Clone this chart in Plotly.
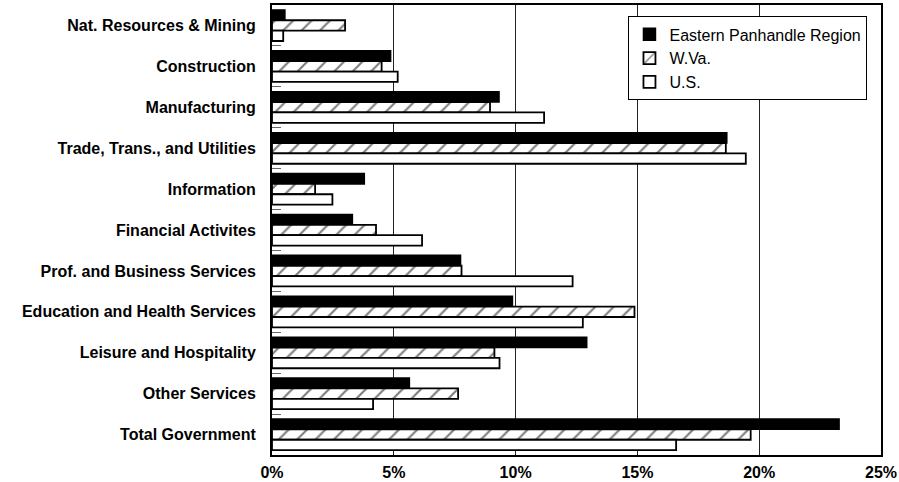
import plotly.graph_objects as go

categories = [
    "Nat. Resources & Mining",
    "Construction",
    "Manufacturing",
    "Trade, Trans., and Utilities",
    "Information",
    "Financial Activites",
    "Prof. and Business Services",
    "Education and Health Services",
    "Leisure and Hospitality",
    "Other Services",
    "Total Government",
]
eastern = [0.53, 4.87, 9.32, 18.67, 3.79, 3.30, 7.74, 9.87, 12.92, 5.64, 23.28]
wva = [3.0, 4.5, 8.95, 18.63, 1.77, 4.27, 7.78, 14.88, 9.13, 7.64, 19.65]
us = [0.46, 5.16, 11.17, 19.45, 2.48, 6.16, 12.34, 12.76, 9.34, 4.15, 16.59]
series_names = ["Eastern Panhandle Region", "W.Va.", "U.S."]
x_tickvals = [0, 5, 10, 15, 20, 25]
x_ticktext = ["0%", "5%", "10%", "15%", "20%", "25%"]

FONT = "Liberation Sans, Arial, sans-serif"

fig = go.Figure()
fig.add_trace(go.Bar(
    y=categories, x=eastern, orientation="h", name=series_names[0],
    marker=dict(color="black", line=dict(color="black", width=1.5)),
))
fig.add_trace(go.Bar(
    y=categories, x=wva, orientation="h", name=series_names[1],
    marker=dict(color="white", line=dict(color="black", width=1.8),
                pattern=dict(shape="/", fgcolor="black", bgcolor="white",
                             size=13, solidity=0.17)),
))
fig.add_trace(go.Bar(
    y=categories, x=us, orientation="h", name=series_names[2],
    marker=dict(color="white", line=dict(color="black", width=1.8)),
))

fig.update_layout(
    width=899, height=482,
    margin=dict(l=272, r=18, t=5, b=27),
    paper_bgcolor="white", plot_bgcolor="white",
    barmode="group", bargap=0.24, bargroupgap=0,
    font=dict(family=FONT, size=16, color="black"),
    legend=dict(
        x=0.585, y=0.975, xanchor="left", yanchor="top",
        bordercolor="black", borderwidth=1.2, bgcolor="white",
        font=dict(family=FONT, size=16, color="black"),
        itemwidth=30, tracegroupgap=0,
    ),
    showlegend=True,
)
fig.update_xaxes(
    range=[0, 25], tickmode="array", tickvals=x_tickvals, ticktext=x_ticktext,
    tickfont=dict(family=FONT, size=16, color="black", weight="bold"),
    showgrid=True, gridcolor="#222", gridwidth=1,
    zeroline=False, showline=True, linecolor="black", linewidth=2, mirror=True,
    ticks="", ticklabelstandoff=2, automargin=False,
)
fig.update_yaxes(
    autorange="reversed", type="category",
    tickfont=dict(family=FONT, size=16, color="black", weight="bold"),
    ticks="inside", tickson="boundaries", ticklen=9, tickcolor="#666", tickwidth=1,
    showgrid=False, showline=True, linecolor="black", linewidth=2, mirror=True,
    ticklabelstandoff=11, automargin=False,
)

fig.write_html("out.html")
